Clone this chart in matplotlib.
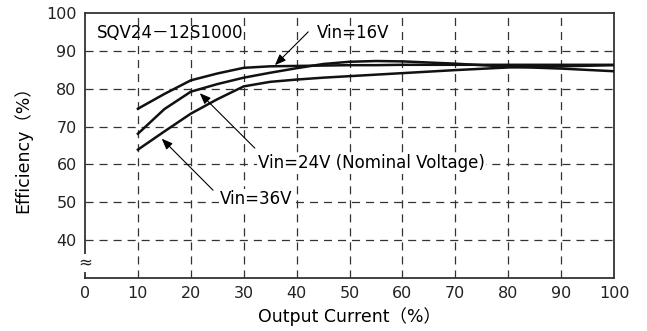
import matplotlib
matplotlib.use('Agg')
import matplotlib.pyplot as plt

# DATA ##########################################

load = [10, 15, 20, 25, 30, 35, 40, 45, 50, 55, 60, 70, 80, 90, 100]
eff_16v = [74.7, 78.6, 82.2, 84.0, 85.5, 85.9, 86.0, 86.1, 86.2, 86.2, 86.3, 86.3, 86.3, 86.3, 86.3]
eff_24v = [68.1, 74.6, 79.2, 81.2, 82.9, 84.2, 85.4, 86.5, 87.1, 87.3, 87.2, 86.6, 85.8, 85.3, 84.6]
eff_36v = [63.9, 68.7, 73.4, 77.2, 80.6, 81.8, 82.4, 82.9, 83.3, 83.7, 84.1, 84.9, 85.6, 85.9, 86.2]

x_ticks = [0, 10, 20, 30, 40, 50, 60, 70, 80, 90, 100]
y_ticks = [40, 50, 60, 70, 80, 90, 100]

# SETUP #########################################

plt.rcParams.update({
    'font.family': ['DejaVu Sans', 'Noto Sans CJK JP'],
    'font.size': 12,
    'lines.scale_dashes': False,
})

fig = plt.figure(figsize=(6.47, 3.31), dpi=100)
ax = fig.add_axes([0.1314, 0.160, 0.8176, 0.801])

ax.set_xlim(0, 100)
ax.set_ylim(30, 100)
ax.set_xticks(x_ticks)
ax.set_yticks(y_ticks)
ax.tick_params(length=0, pad=6, colors='#222222', labelsize=11.5)

for s in ax.spines.values():
    s.set_color('#333333')
    s.set_linewidth(1.3)

# GRIDS ######################

for xv in x_ticks[1:-1]:
    ax.axvline(xv, color='#333333', lw=0.9, ls=(0, (5.8, 4.3)), zorder=1)
for yv in y_ticks[:-1]:
    ax.axhline(yv, color='#333333', lw=0.9, ls=(0, (5.8, 4.3)), zorder=1)

# PLOTTING ###################

for eff in (eff_16v, eff_24v, eff_36v):
    ax.plot(load, eff, color='#111111', lw=1.8, zorder=3)

ax.set_xlabel('Output Current（%）', fontsize=12.5, labelpad=4)
ax.set_ylabel('Efficiency（%）', fontsize=12.5, labelpad=10)

# axis break mark
ax.text(0, 34, '≈', ha='center', va='center', fontsize=12,
        color='#222222', clip_on=False, zorder=5,
        bbox=dict(facecolor='white', edgecolor='none', pad=0))

# ANNOTATIONS ################

ax.text(2.3, 94.6, 'SQV24－12S1000', ha='left', va='center')

arrow = dict(arrowstyle='-|>,head_length=0.55,head_width=0.22',
             color='black', lw=0.8, shrinkA=0, shrinkB=0)

ax.annotate('', xy=(35.9, 86.2), xytext=(42.2, 95.0), arrowprops=arrow, zorder=4)
ax.text(43.9, 94.7, 'Vin=16V', ha='left', va='center')

ax.annotate('', xy=(21.7, 78.8), xytext=(32.1, 64.3), arrowprops=arrow, zorder=4)
ax.text(32.7, 60.3, 'Vin=24V (Nominal Voltage)', ha='left', va='center', zorder=4,
        bbox=dict(facecolor='white', edgecolor='none', pad=1))

ax.annotate('', xy=(14.5, 66.8), xytext=(24.2, 53.2), arrowprops=arrow, zorder=4)
ax.text(25.5, 50.8, 'Vin=36V', ha='left', va='center', zorder=4,
        bbox=dict(facecolor='white', edgecolor='none', pad=1))

# EXPORT #########################################

fig.savefig('out.png', dpi=100)
